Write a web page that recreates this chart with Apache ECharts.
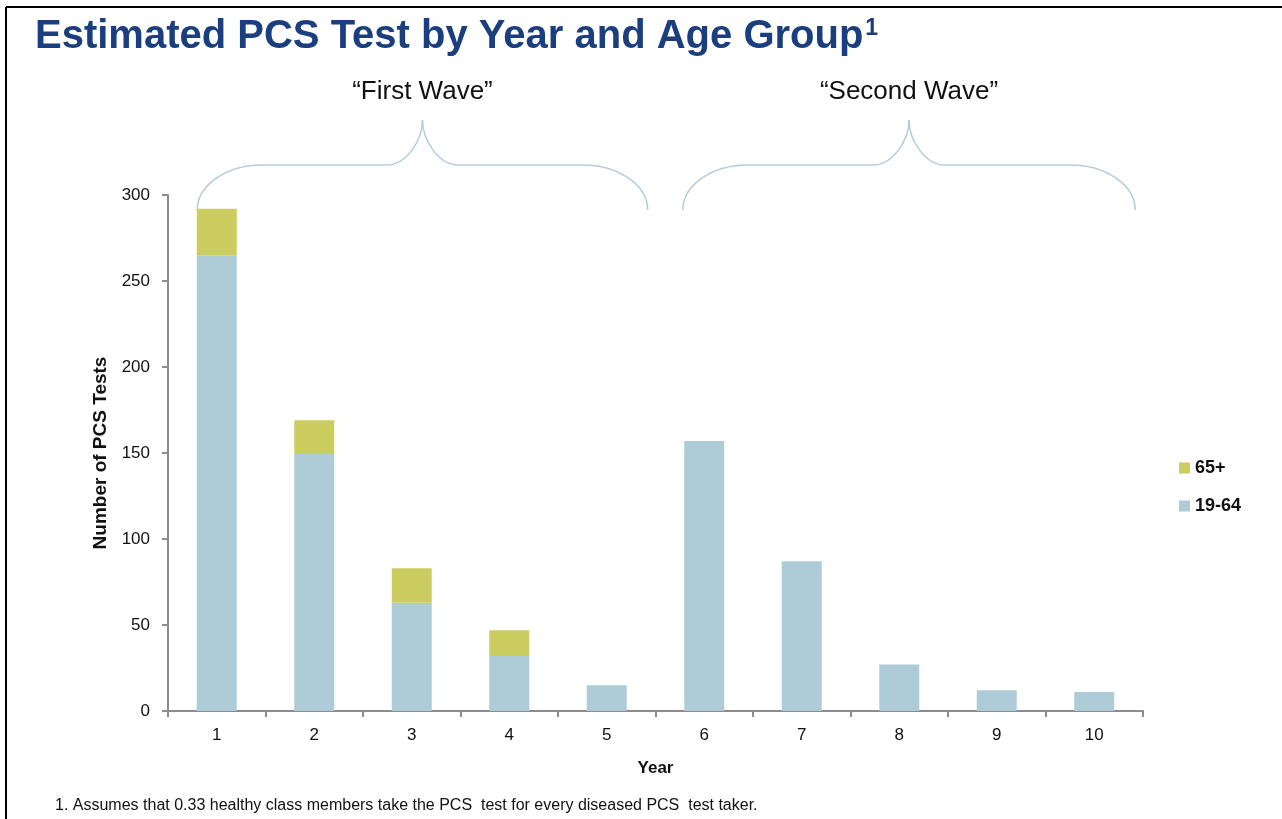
<!DOCTYPE html>
<html>
<head>
<meta charset="utf-8">
<script src="https://cdn.jsdelivr.net/npm/echarts@6/dist/echarts.min.js"></script>
<style>
html,body{margin:0;padding:0;background:#fff;}
#main{width:1282px;height:819px;}
</style>
</head>
<body>
<div id="main"></div>
<script>
// ---- data ----
var years = ['1','2','3','4','5','6','7','8','9','10'];
var age19to64 = [265, 150, 63, 32, 15, 157, 87, 27, 12, 11];
var age65plus = [27, 19, 20, 15, null, null, null, null, null, null];
var seriesNames = ['65+', '19-64'];
var yTicks = {min: 0, max: 300, interval: 50};
var waveLabels = ['\u201CFirst Wave\u201D', '\u201CSecond Wave\u201D'];
var titleText = 'Estimated PCS Test by Year and Age Group';
var footnote = '1. Assumes that 0.33 healthy class members take the PCS  test for every diseased PCS  test taker.';

var BLUE = '#AECBD8';
var GREEN = '#CCCD60';
var FONT = '"Liberation Sans", Arial, sans-serif';

var chart = echarts.init(document.getElementById('main'), null, {renderer: 'canvas'});

var grid = {left: 168, right: 139, top: 195, bottom: 108};

chart.setOption({
  animation: false,
  backgroundColor: '#fff',
  textStyle: {fontFamily: FONT},
  title: {
    text: titleText + '{sup|1}',
    left: 30, top: 12,
    textStyle: {
      fontFamily: FONT, fontSize: 40, fontWeight: 'bold', color: '#1B3F7E',
      rich: {sup: {fontFamily: FONT, fontSize: 23, fontWeight: 'bold', color: '#1B3F7E', verticalAlign: 'top', padding: [0,0,16,2]}}
    }
  },
  legend: {
    orient: 'vertical',
    left: 1174, top: 454,
    itemWidth: 11, itemHeight: 11, itemGap: 20,
    icon: 'rect',
    data: seriesNames,
    textStyle: {fontFamily: FONT, fontSize: 18, fontWeight: 'bold', color: '#111'}
  },
  grid: grid,
  xAxis: {
    type: 'category',
    data: years,
    name: 'Year',
    nameLocation: 'middle',
    nameGap: 49,
    nameTextStyle: {fontFamily: FONT, fontSize: 17, fontWeight: 'bold', color: '#111'},
    axisLine: {lineStyle: {color: '#8c8c8c', width: 2}},
    axisTick: {show: true, alignWithLabel: false, length: 6, lineStyle: {color: '#8c8c8c', width: 2}},
    axisLabel: {fontFamily: FONT, fontSize: 17, color: '#111', margin: 16}
  },
  yAxis: {
    type: 'value',
    min: yTicks.min, max: yTicks.max, interval: yTicks.interval,
    name: 'Number of PCS Tests',
    nameLocation: 'middle',
    nameGap: 58,
    nameRotate: 90,
    nameTextStyle: {fontFamily: FONT, fontSize: 19, fontWeight: 'bold', color: '#111'},
    axisLine: {show: true, lineStyle: {color: '#8c8c8c', width: 2}},
    axisTick: {show: true, length: 6, lineStyle: {color: '#8c8c8c', width: 2}},
    splitLine: {show: false},
    axisLabel: {fontFamily: FONT, fontSize: 17, color: '#111', margin: 18}
  },
  series: [
    {name: '19-64', type: 'bar', stack: 'total', data: age19to64, barWidth: 40,
     itemStyle: {color: BLUE}, z: 2},
    {name: '65+', type: 'bar', stack: 'total', data: age65plus, barWidth: 40,
     itemStyle: {color: GREEN}, z: 2}
  ]
});

var BRACE_STYLE = {stroke: '#B4CCDA', lineWidth: 1.5, fill: null};
function braceParts(x1, x2, yb, ym, yt) {
  var xt = (x1 + x2) / 2;
  var rx = 65, rx2 = 36, k = 0.55;
  var parts = [];
  function bz(a, b, c, d, e, f, h, i) {
    parts.push({type: 'bezierCurve', silent: true, style: BRACE_STYLE,
      shape: {x1: a, y1: b, cpx1: c, cpy1: d, cpx2: e, cpy2: f, x2: h, y2: i}});
  }
  function ln(a, b, c, d) {
    parts.push({type: 'line', silent: true, style: BRACE_STYLE, shape: {x1: a, y1: b, x2: c, y2: d}});
  }
  bz(x1, yb, x1, yb - k * (yb - ym), x1 + rx * (1 - k), ym, x1 + rx, ym);
  ln(x1 + rx, ym, xt - rx2, ym);
  bz(xt - rx2, ym, xt - rx2 * (1 - k), ym, xt, ym - k * (ym - yt), xt, yt);
  bz(xt, yt, xt, ym - k * (ym - yt), xt + rx2 * (1 - k), ym, xt + rx2, ym);
  ln(xt + rx2, ym, x2 - rx, ym);
  bz(x2 - rx, ym, x2 - rx * (1 - k), ym, x2, yb - k * (yb - ym), x2, yb);
  return parts;
}

function cx(i) {
  var p = chart.convertToPixel({gridIndex: 0}, [i, 0]);
  return p[0];
}
var topY = chart.convertToPixel({gridIndex: 0}, [0, yTicks.max])[1];
var cw = cx(1) - cx(0);
var braces = [
  {x1: cx(0) - 0.2 * cw, x2: cx(4) + 0.42 * cw, label: waveLabels[0]},
  {x1: cx(5) - 0.22 * cw, x2: cx(9) + 0.42 * cw, label: waveLabels[1]}
];
var g = [];
braces.forEach(function (b) {
  g = g.concat(braceParts(b.x1, b.x2, topY + 15, topY - 30, topY - 75));
  g.push({type: 'text', x: (b.x1 + b.x2) / 2, y: topY - 103,
    style: {text: b.label, font: '26px ' + FONT, fill: '#111', align: 'center', verticalAlign: 'middle'}});
});
// frame
g.push({type: 'line', shape: {x1: 6, y1: 7, x2: 1282, y2: 7}, style: {stroke: '#000', lineWidth: 2}});
g.push({type: 'line', shape: {x1: 6, y1: 7, x2: 6, y2: 819}, style: {stroke: '#000', lineWidth: 2}});
// footnote
g.push({type: 'text', x: 55, y: 806, style: {text: footnote, font: '16px ' + FONT, fill: '#111', verticalAlign: 'middle'}});
chart.setOption({graphic: g});
</script>
</body>
</html>
